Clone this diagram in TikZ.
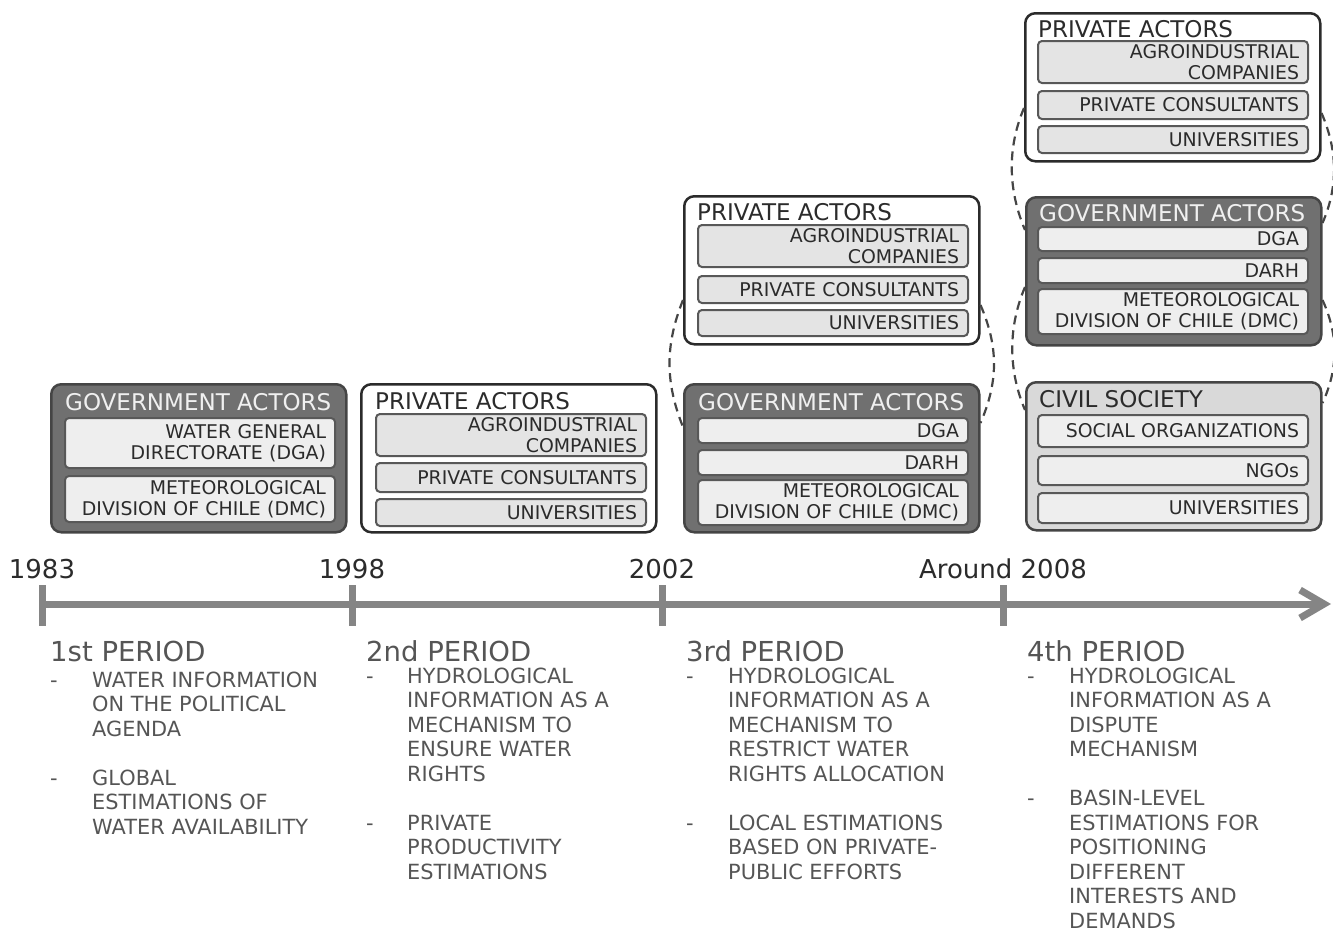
\documentclass[tikz,border=0pt]{standalone}
\usepackage{fontspec}
\setmainfont{DejaVu Sans}
\usetikzlibrary{arrows.meta}
\definecolor{TLgray}{HTML}{858585}
\definecolor{GOVfill}{HTML}{707070}
\definecolor{GOVdraw}{HTML}{454545}
\definecolor{CIVfill}{HTML}{D9D9D9}
\definecolor{ITEMfill}{HTML}{EEEEEE}
\definecolor{PRIVitem}{HTML}{E4E4E4}
\definecolor{TXTdark}{HTML}{2B2B2B}
\definecolor{TXTmid}{HTML}{555555}

\begin{document}
\begin{tikzpicture}[
    x=1pt, y=-1pt,
    actorbox/.style={
        draw=GOVdraw,
        line width=2.5pt,
        rounded corners=10pt,
        minimum width=295pt,
        minimum height=148pt,
        anchor=north west,
        inner sep=0pt
    },
    govbox/.style={actorbox, fill=GOVfill},
    privbox/.style={actorbox, draw=TXTdark, fill=white},
    civbox/.style={actorbox, fill=CIVfill},
    boxtitle/.style={anchor=base west, inner sep=0pt, font=\fontsize{23}{27}\selectfont, text=TXTdark},
    govtitle/.style={boxtitle, text=white!94!black},
    entry/.style={
        draw=GOVdraw!90,
        line width=2pt,
        rounded corners=4pt,
        fill=ITEMfill,
        anchor=north west,
        minimum width=270pt,
        text width=252pt,
        inner xsep=9pt,
        inner ysep=0pt,
        align=right,
        font=\fontsize{18.9}{21}\selectfont,
        text=TXTdark
    },
    privEntry/.style={entry, fill=PRIVitem},
    year/.style={anchor=base, inner sep=0pt, font=\fontsize{26}{30}\selectfont, text=TXTdark},
    period/.style={anchor=base west, inner sep=0pt, font=\fontsize{27.5}{32}\selectfont, text=TXTmid},
    duty/.style={anchor=base west, inner sep=0pt, font=\fontsize{20.9}{24.5}\selectfont, text=TXTmid},
    timeline/.style={draw=TLgray, line width=7pt},
    tie/.style={draw=GOVdraw, line width=2.2pt, dash pattern=on 9pt off 6pt}
]
\useasboundingbox (0,0) rectangle (1333,932);

% 1st period actors
\node[govbox] (gov1) at (50,383) {};
\node[govtitle] (gov1title) at (65,410) {GOVERNMENT ACTORS};
\node[entry, minimum height=50pt] (gov1dga) at (64,417) {WATER GENERAL\\DIRECTORATE (DGA)};
\node[entry, minimum height=46pt] (gov1dmc) at (64,475) {METEOROLOGICAL\\DIVISION OF CHILE (DMC)};

% 2nd period actors
\node[privbox] (priv2) at (360,383) {};
\node[boxtitle] (priv2title) at (375,409) {PRIVATE ACTORS};
\node[privEntry, minimum height=42pt] (priv2agro) at (375,413) {AGROINDUSTRIAL\\COMPANIES};
\node[privEntry, minimum height=29pt] (priv2cons) at (375,462) {PRIVATE CONSULTANTS};
\node[privEntry, minimum height=27pt] (priv2univ) at (375,498) {UNIVERSITIES};

% 3rd period actors
\node[privbox] (priv3) at (683,195) {};
\node[boxtitle] (priv3title) at (697,220) {PRIVATE ACTORS};
\node[privEntry, minimum height=42pt] (priv3agro) at (697,224) {AGROINDUSTRIAL\\COMPANIES};
\node[privEntry, minimum height=27pt] (priv3cons) at (697,275) {PRIVATE CONSULTANTS};
\node[privEntry, minimum height=26pt] (priv3univ) at (697,309) {UNIVERSITIES};

\node[govbox] (gov3) at (683,383) {};
\node[govtitle] (gov3title) at (698,410) {GOVERNMENT ACTORS};
\node[entry, minimum height=25pt] (gov3dga) at (697,417) {DGA};
\node[entry, minimum height=25pt] (gov3darh) at (697,449) {DARH};
\node[entry, minimum height=45pt] (gov3dmc) at (697,479) {METEOROLOGICAL\\DIVISION OF CHILE (DMC)};

% 4th period actors
\node[privbox] (priv4) at (1024,12) {};
\node[boxtitle] (priv4title) at (1038,37) {PRIVATE ACTORS};
\node[privEntry, minimum height=42pt] (priv4agro) at (1037,40) {AGROINDUSTRIAL\\COMPANIES};
\node[privEntry, minimum height=28pt] (priv4cons) at (1037,90) {PRIVATE CONSULTANTS};
\node[privEntry, minimum height=27pt] (priv4univ) at (1037,125) {UNIVERSITIES};

\node[govbox] (gov4) at (1025,196) {};
\node[govtitle] (gov4title) at (1039,221) {GOVERNMENT ACTORS};
\node[entry, minimum height=24pt] (gov4dga) at (1037,226) {DGA};
\node[entry, minimum height=25pt] (gov4darh) at (1037,257) {DARH};
\node[entry, minimum height=45pt] (gov4dmc) at (1037,288) {METEOROLOGICAL\\DIVISION OF CHILE (DMC)};

\node[civbox] (civ4) at (1025,381) {};
\node[boxtitle] (civ4title) at (1039,407) {CIVIL SOCIETY};
\node[entry, minimum height=32pt] (civ4soc) at (1037,414) {SOCIAL ORGANIZATIONS};
\node[entry, minimum height=29pt] (civ4ngo) at (1037,455) {NGOs};
\node[entry, minimum height=30pt] (civ4univ) at (1037,492) {UNIVERSITIES};

% dashed links between actor groups
\draw[tie] (priv3.west |- 0,300) .. controls +(-18,45) and +(-18,-45) .. (gov3.west |- 0,427);
\draw[tie] (priv3.east |- 0,305) .. controls +(18,42) and +(18,-42) .. (gov3.east |- 0,423);
\draw[tie] (priv4.west |- 0,108) .. controls +(-17,40) and +(-17,-40) .. (gov4.west |- 0,230);
\draw[tie] (priv4.east |- 0,113) .. controls +(16,37) and +(16,-37) .. (gov4.east |- 0,223);
\draw[tie] (gov4.west |- 0,287) .. controls +(-17,40) and +(-17,-40) .. (civ4.west |- 0,410);
\draw[tie] (gov4.east |- 0,300) .. controls +(16,35) and +(16,-35) .. (civ4.east |- 0,403);

% time line
\coordinate (tlstart) at (42,604);
\coordinate (tlend) at (1331,604);
\draw[timeline, -{Straight Barb[length=24pt, width=28pt]}] (tlstart) -- (tlend);
\foreach \x/\when in {42/1983, 352/1998, 662/2002, 1003/Around 2008} {
    \draw[timeline] (\x,585) -- (\x,626);
    \node[year] (year\x) at (\x,578) {\when};
}

% periods
\node[period] (per1) at (50,661) {1st PERIOD};
\node[duty] (per1list) at (50,687) {\begin{tabular}[t]{@{}p{42pt}@{}l@{}}
-&WATER INFORMATION\\ &ON THE POLITICAL\\ &AGENDA\\ &\\
-&GLOBAL\\ &ESTIMATIONS OF\\ &WATER AVAILABILITY
\end{tabular}};

\node[period] (per2) at (366,661) {2nd PERIOD};
\node[duty] (per2list) at (366,683) {\begin{tabular}[t]{@{}p{41pt}@{}l@{}}
-&HYDROLOGICAL\\ &INFORMATION AS A\\ &MECHANISM TO\\ &ENSURE WATER\\ &RIGHTS\\ &\\
-&PRIVATE\\ &PRODUCTIVITY\\ &ESTIMATIONS
\end{tabular}};

\node[period] (per3) at (686,661) {3rd PERIOD};
\node[duty] (per3list) at (686,683) {\begin{tabular}[t]{@{}p{42pt}@{}l@{}}
-&HYDROLOGICAL\\ &INFORMATION AS A\\ &MECHANISM TO\\ &RESTRICT WATER\\ &RIGHTS ALLOCATION\\ &\\
-&LOCAL ESTIMATIONS\\ &BASED ON PRIVATE-\\ &PUBLIC EFFORTS
\end{tabular}};

\node[period] (per4) at (1027,661) {4th PERIOD};
\node[duty] (per4list) at (1027,683) {\begin{tabular}[t]{@{}p{42pt}@{}l@{}}
-&HYDROLOGICAL\\ &INFORMATION AS A\\ &DISPUTE\\ &MECHANISM\\ &\\
-&BASIN-LEVEL\\ &ESTIMATIONS FOR\\ &POSITIONING\\ &DIFFERENT\\ &INTERESTS AND\\ &DEMANDS
\end{tabular}};

\end{tikzpicture}
\end{document}
